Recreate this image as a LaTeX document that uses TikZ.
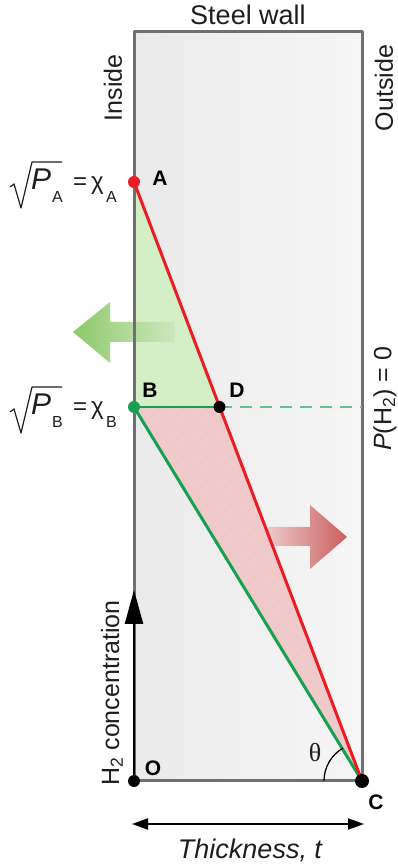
\documentclass[tikz,border=0pt]{standalone}
\usepackage{fontspec}
\setmainfont{Liberation Sans}
\newfontfamily\thetafont{Liberation Serif}
\usetikzlibrary{arrows.meta}
\definecolor{wallgrey}{RGB}{112,112,112}
\definecolor{wallleft}{RGB}{234,234,234}
\definecolor{wallright}{RGB}{246,246,246}
\definecolor{redline}{RGB}{236,28,36}
\definecolor{greenline}{RGB}{22,160,80}
\definecolor{greenfill}{RGB}{186,226,164}
\definecolor{greenlt}{RGB}{212,239,198}
\definecolor{redfill}{RGB}{224,166,166}
\definecolor{redlt}{RGB}{240,202,202}
\definecolor{dashgreen}{RGB}{100,195,145}
\definecolor{arrgreen}{RGB}{128,194,88}
\definecolor{arrgreenlt}{RGB}{205,232,190}
\definecolor{arrred}{RGB}{200,78,78}
\definecolor{arrredlt}{RGB}{236,196,196}
\definecolor{txt}{RGB}{30,30,30}
\tikzset{
  lbl/.style={font=\fontsize{25}{30}\selectfont,text=txt,inner sep=0pt},
  ptlbl/.style={font=\fontsize{21}{25}\selectfont\bfseries,text=black,inner sep=0pt},
  sublbl/.style={font=\fontsize{16}{18}\selectfont,text=txt,inner sep=0pt,anchor=base west},
  dot/.style={circle,inner sep=0pt,minimum size=12pt}
}

\begin{document}
\begin{tikzpicture}[x=1pt,y=1pt]
  \useasboundingbox (0,0) rectangle (398,865);
  \coordinate (O) at (134,84);
  \coordinate (C) at (362,84);
  \coordinate (A) at (134,683);
  \coordinate (B) at (134,458);
  \coordinate (D) at (219.5,458);
  \coordinate (E) at (362,458);
  \coordinate (axtop) at (134,275);
  \coordinate (tl) at (132,41);
  \coordinate (tr) at (364,41);
  % wall
  \shade[left color=wallleft,right color=wallright] (134,84) rectangle (362,833);
  % triangles
  \foreach \tri/\base/\light in {{(A) -- (B) -- (D)}/greenfill/greenlt,{(B) -- (D) -- (C)}/redfill/redlt}{
    \begin{scope}
      \clip \tri -- cycle;
      \fill[\base] (130,80) rectangle (366,690);
      \foreach \j in {0,...,52}{
        \foreach \i in {0,...,10}{
          \fill[\light] ({134+2*12*\i+mod(\j,2)*12},{84+12*\j-12}) -- ++(12,12) -- ++(-12,12) -- ++(-12,-12) -- cycle;}}
    \end{scope}}
  % flux arrows
  \shade[left color=arrgreen,right color=arrgreenlt,opacity=.9]
    (73,533) -- (110,563) -- (110,543) -- (175,543) -- (175,523) -- (110,523) -- (110,502) -- cycle;
  \shade[left color=arrredlt,right color=arrred,opacity=.9]
    (347,328) -- (310,360) -- (310,338) -- (268,338) -- (268,319) -- (310,319) -- (310,296) -- cycle;
  \draw[wallgrey,line width=3,line join=round] (134,84) rectangle (362,833);
  % profiles
  \draw[dashgreen,line width=1.3,dash pattern=on 12pt off 8pt] (D) -- (E);
  \draw[greenline,line width=1.5] (B) -- (D);
  \draw[greenline,line width=3] (B) -- (C);
  \draw[redline,line width=3] (A) -- (C);
  \draw[line width=1.3] (C) ++(180:38) arc[start angle=180,end angle=120,radius=38];
  % axes
  \draw[-{Triangle[length=34pt,width=18pt]},line width=2.5] (O) -- (axtop);
  \draw[{Triangle[length=16pt,width=11pt]}-{Triangle[length=16pt,width=11pt]},line width=2] (tl) -- (tr);
  % points
  \node[dot,fill=redline] (pA) at (A) {};
  \node[dot,fill=greenline] (pB) at (B) {};
  \node[dot,fill=black] (pD) at (D) {};
  \node[dot,fill=black] (pO) at (O) {};
  \node[dot,fill=black,minimum size=14pt] (pC) at (C) {};
  \node[ptlbl] (lA) at (160,687) {A};
  \node[ptlbl] (lB) at (150,475) {B};
  \node[ptlbl] (lD) at (237,475) {D};
  \node[ptlbl] (lO) at (153,97) {O};
  \node[ptlbl] (lC) at (376,63) {C};
  % labels
  \node[lbl,font=\fontsize{27}{32}\selectfont] (wall) at (248,850) {Steel wall};
  \node[lbl,rotate=90] (inside) at (113,777) {Inside};
  \node[lbl,rotate=90] (outside) at (384,777) {Outside};
  \node[lbl,rotate=90] (pzero) at (385,466) {\textit{P}(H\textsubscript{2}) = 0};
  \node[lbl,rotate=90] (conc) at (112,172) {H\textsubscript{2} concentration};
  \node[lbl,font=\fontsize{27}{32}\selectfont\itshape] (thick) at (250,15) {Thickness, t};
  \node[lbl,font=\fontsize{26}{30}\selectfont\thetafont] (theta) at (315,112) {θ};
  % boundary conditions
  \foreach \s/\dy in {A/0,B/-225}{
    \begin{scope}[yshift=\dy]
      \draw[txt,line width=1.2,line join=round] (10,678) -- (14,681) -- (21,657) -- (32,703) -- (62,703);
      \node[lbl,anchor=base west,font=\fontsize{30}{34}\selectfont\itshape] (P\s) at (31,675) {P};
      \node[sublbl] (Ps\s) at (52,662) {\s};
      \node[lbl,anchor=base west,font=\fontsize{24}{28}\selectfont] (chi\s) at (73,675) {=\,χ};
      \node[sublbl] (chis\s) at (106,662) {\s};
    \end{scope}}
\end{tikzpicture}
\end{document}
